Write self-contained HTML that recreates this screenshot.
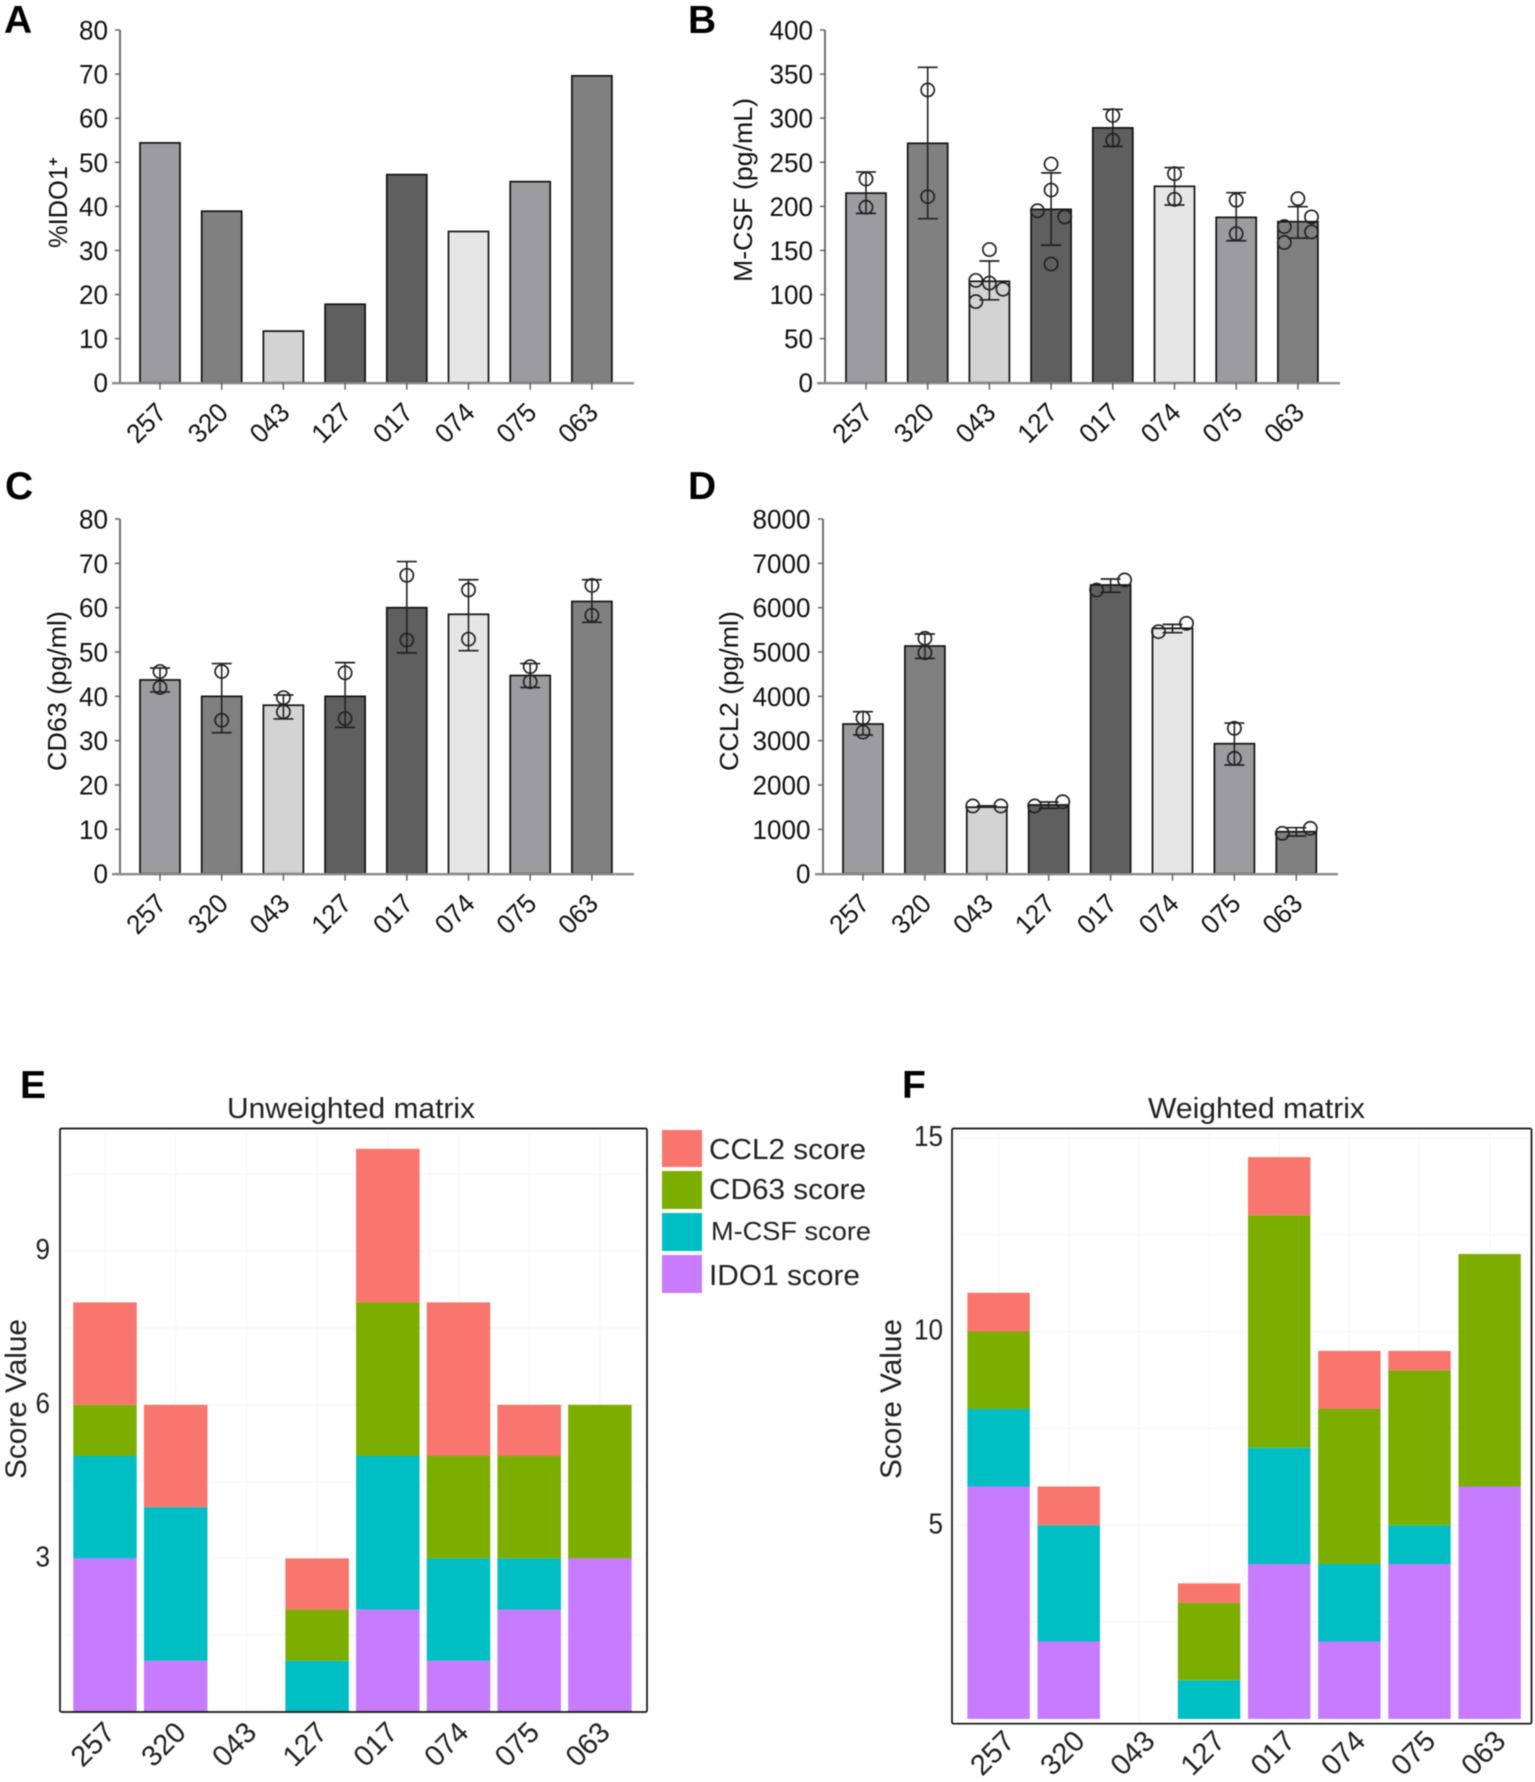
<!DOCTYPE html>
<html lang="en">
<head>
<meta charset="utf-8">
<title>IDO1, M-CSF, CD63 and CCL2 scores</title>
<style>
html,body{margin:0;padding:0;background:#fff;}
body{width:1535px;height:1782px;overflow:hidden;}
svg{display:block;filter:blur(0.45px);}
text{font-family:"Liberation Sans",sans-serif;fill:#111;}
.letter{font-size:39px;font-weight:bold;fill:#000;}
.ytitle{font-size:26px;}
.tick{font-size:27px;}
.title{font-size:29px;fill:#222;}
.legend{font-size:29px;fill:#222;}
.score{font-size:30px;fill:#222;}
</style>
</head>
<body>
<svg id="figure" width="1535" height="1782" viewBox="0 0 1535 1782" xmlns="http://www.w3.org/2000/svg">
  <rect width="1535" height="1782" fill="#fff"/>

  <g id="panel-a"></g>
  <g id="panel-b"></g>
  <g id="panel-c"></g>
  <g id="panel-d"></g>
  <g id="panel-e"></g>
  <g id="panel-f"></g>

  <text class="letter" x="4" y="33">A</text>
  <text class="letter" x="688" y="33">B</text>
  <text class="letter" x="5" y="499">C</text>
  <text class="letter" x="688" y="499">D</text>
  <text class="letter" x="20" y="1098">E</text>
  <text class="letter" x="902" y="1098">F</text>

  <text class="ytitle" transform="translate(67,248) rotate(-90)" textLength="82" lengthAdjust="spacingAndGlyphs">%IDO1</text>
  <text transform="translate(58,166) rotate(-90)" font-size="15" font-weight="bold">+</text>
  <text class="ytitle" transform="translate(752,282) rotate(-90)" textLength="184" lengthAdjust="spacingAndGlyphs">M-CSF (pg/mL)</text>
  <text class="ytitle" transform="translate(66,771) rotate(-90)" textLength="160" lengthAdjust="spacingAndGlyphs">CD63 (pg/ml)</text>
  <text class="ytitle" transform="translate(738,771) rotate(-90)" textLength="160" lengthAdjust="spacingAndGlyphs">CCL2 (pg/ml)</text>

  <text class="title" x="227" y="1118" textLength="248" lengthAdjust="spacingAndGlyphs">Unweighted matrix</text>
  <text class="title" x="1148" y="1118" textLength="217" lengthAdjust="spacingAndGlyphs">Weighted matrix</text>

  <text class="score" transform="translate(26,1479) rotate(-90)" textLength="160" lengthAdjust="spacingAndGlyphs">Score Value</text>
  <text class="score" transform="translate(901,1479) rotate(-90)" textLength="160" lengthAdjust="spacingAndGlyphs">Score Value</text>

  <g>
    <g>
      <rect x="662" y="1130" width="40" height="37" fill="#F8766D"/>
      <text class="legend" x="709" y="1159" textLength="157" lengthAdjust="spacingAndGlyphs">CCL2 score</text>
    </g>
    <g>
      <rect x="662" y="1171" width="40" height="38" fill="#7CAE00"/>
      <text class="legend" x="709" y="1199" textLength="157" lengthAdjust="spacingAndGlyphs">CD63 score</text>
    </g>
    <g>
      <rect x="662" y="1213" width="40" height="38" fill="#00BFC4"/>
      <text class="legend" x="711" y="1240" textLength="160" lengthAdjust="spacingAndGlyphs" style="font-size:26px">M-CSF score</text>
    </g>
    <g>
      <rect x="662" y="1255" width="40" height="38" fill="#C77CFF"/>
      <text class="legend" x="709" y="1285" textLength="151" lengthAdjust="spacingAndGlyphs">IDO1 score</text>
    </g>
  </g>
</svg>

<script>
const categories = ['257', '320', '043', '127', '017', '074', '075', '063'];

const ido1Ticks = [0, 10, 20, 30, 40, 50, 60, 70, 80];
const ido1Means = [54.4, 38.9, 11.7, 17.8, 47.2, 34.3, 45.6, 69.6];

const mcsfTicks = [0, 50, 100, 150, 200, 250, 300, 350, 400];
const mcsfMeans = [215, 271.5, 115, 196.6, 289, 222.7, 187.5, 182.6];
const mcsfErrLow = [192, 186, 94, 156, 268, 201.5, 161, 164];
const mcsfErrHigh = [239, 357.7, 138, 238, 310, 244, 215.5, 199.6];
const mcsfPoints = [[231, 199], [332, 211], [151, 116, 113, 106, 92], [248, 218.5, 195, 188, 134.6], [303, 275], [237, 208], [207, 169], [208.7, 188, 177, 171, 159]];
const mcsfSwarmColumns = [[0, 0], [0, 0], [0, -1, 0, 1, -1], [0, 0, -1, 1, 0], [0, 0], [0, 0], [0, 0], [0, 1, -1, 1, -1]];

const cd63Ticks = [0, 10, 20, 30, 40, 50, 60, 70, 80];
const cd63Means = [43.7, 40, 38, 40, 60, 58.5, 44.7, 61.4];
const cd63ErrLow = [41, 31.8, 34.9, 33, 49.8, 50.3, 42, 56.7];
const cd63ErrHigh = [46.4, 47.4, 40.3, 47.6, 70.4, 66.3, 47.4, 66.3];
const cd63Points = [[45.6, 42], [45.6, 34.6], [39.7, 36.5], [45.3, 35], [67.3, 52.7], [64, 52.9], [46.7, 43.3], [65, 58.3]];
const cd63SwarmColumns = [[0, 0], [0, 0], [0, 0], [0, 0], [0, 0], [0, 0], [0, 0], [0, 0]];

const ccl2Ticks = [0, 1000, 2000, 3000, 4000, 5000, 6000, 7000, 8000];
const ccl2Means = [3376, 5135, 1500, 1550, 6511, 5534, 2932, 947];
const ccl2ErrLow = [3128, 4857, 1500, 1474, 6346, 5436, 2451, 850];
const ccl2ErrHigh = [3654, 5406, 1530, 1617, 6647, 5624, 3398, 1038];
const ccl2Points = [[3511, 3195], [5308, 4985], [1527, 1527], [1527, 1624], [6398, 6624], [5459, 5647], [3278, 2601], [910, 1023]];
const ccl2SwarmColumns = [[0, 0], [0, 0], [-1, 1], [-1, 1], [-1, 1], [-1, 1], [0, 0], [-1, 1]];

const unweightedTicks = [3, 6, 9];
const unweightedMinorTicks = [1.5, 4.5, 7.5, 10.5];
const unweightedIdo1 = [3, 1, 0, 0, 2, 1, 2, 3];
const unweightedMcsf = [2, 3, 0, 1, 3, 2, 1, 0];
const unweightedCd63 = [1, 0, 0, 1, 3, 2, 2, 3];
const unweightedCcl2 = [2, 2, 0, 1, 3, 3, 1, 0];

const weightedTicks = [5, 10, 15];
const weightedMinorTicks = [2.5, 7.5, 12.5];
const weightedIdo1 = [6, 2, 0, 0, 4, 2, 4, 6];
const weightedMcsf = [2, 3, 0, 1, 3, 2, 1, 0];
const weightedCd63 = [2, 0, 0, 2, 6, 4, 4, 6];
const weightedCcl2 = [1, 1, 0, 0.5, 1.5, 1.5, 0.5, 0];

const seriesNames = ['ido1', 'mcsf', 'cd63', 'ccl2'];
const seriesColors = ['#C77CFF', '#00BFC4', '#7CAE00', '#F8766D'];
const barShades = ['#9c9ca0', '#808080', '#d3d3d3', '#5f5f5f', '#5f5f5f', '#e6e6e6', '#9c9ca0', '#808080'];

const NS = 'http://www.w3.org/2000/svg';

function mk(parent, tag, attrs, content) {
  const node = document.createElementNS(NS, tag);
  for (const key in attrs) node.setAttribute(key, attrs[key]);
  if (content !== undefined) node.textContent = content;
  parent.appendChild(node);
  return node;
}

function drawBarPanel(id, o) {
  const root = document.getElementById(id);
  const yScale = v => o.y0 - (v / o.max) * (o.y0 - o.yTop);
  const xScale = i => o.cx0 + i * o.step;
  const barW = 40;

  const yAxis = mk(root, 'line', {x1: o.axisX, x2: o.axisX, y1: o.yTop, y2: o.y0, stroke: '#707070', 'stroke-width': 2});
  
  

  o.ticks.forEach(t => {
    const tickMark = mk(root, 'line', {x1: o.axisX - 5, x2: o.axisX, y1: yScale(t), y2: yScale(t), stroke: '#666', 'stroke-width': 1.5});
    
    
    const tickLabel = mk(root, 'text', {class: 'tick', x: o.labelRight, y: yScale(t) + 9.5, 'text-anchor': 'end', textLength: String(t).length * 14.5, lengthAdjust: 'spacingAndGlyphs'}, String(t));
    
    
  });

  o.means.forEach((m, i) => {
    const cx = xScale(i);
    const bar = mk(root, 'rect', {x: cx - barW / 2, y: yScale(m), width: barW, height: o.y0 - yScale(m), fill: barShades[i], stroke: '#111', 'stroke-width': 1.7});
    
    
  });

  const xAxis = mk(root, 'line', {x1: o.xStart, x2: o.xEnd, y1: o.y0 + 0.5, y2: o.y0 + 0.5, stroke: '#8a8a8a', 'stroke-width': 2.4});
  
  

  categories.forEach((c, i) => {
    const cx = xScale(i);
    const xTick = mk(root, 'line', {x1: cx, x2: cx, y1: o.y0, y2: o.y0 + 7, stroke: '#666', 'stroke-width': 1.5});
    
    
    const xLabel = mk(root, 'text', {class: 'tick', 'text-anchor': 'middle', dy: '0.35em', textLength: 43, lengthAdjust: 'spacingAndGlyphs', transform: 'translate(' + (cx - 14) + ',' + (o.y0 + 40) + ') rotate(-45)'}, c);
    
    
  });

  if (!o.errLow) return;
  const capHalf = 10;
  o.means.forEach((m, i) => {
    const cx = xScale(i);
    const errStem = mk(root, 'line', {x1: cx, x2: cx, y1: yScale(o.errLow[i]), y2: yScale(o.errHigh[i]), stroke: '#222', 'stroke-width': 1.6});
    
    
    [o.errLow[i], o.errHigh[i]].forEach(v => {
      const cap = mk(root, 'line', {x1: cx - capHalf, x2: cx + capHalf, y1: yScale(v), y2: yScale(v), stroke: '#222', 'stroke-width': 1.7});
      
      
    });
    o.points[i].forEach((p, k) => {
      const dot = mk(root, 'circle', {cx: cx + o.columns[i][k] * o.swarmStep, cy: yScale(p), r: 6.6, fill: 'none', stroke: '#222', 'stroke-width': 1.7});
      
      
    });
  });
}

function drawStackPanel(id, o) {
  const root = document.getElementById(id);
  const yScale = v => o.y0 - v * o.unit;
  const xScale = i => o.cx0 + i * o.step;

  const plotBg = mk(root, 'rect', {x: o.left, y: o.top, width: o.right - o.left, height: o.bottom - o.top, fill: '#fff'});
  
  

  o.ticks.concat(o.minor).forEach(t => {
    const gridY = mk(root, 'line', {x1: o.left + 5, x2: o.right - 5, y1: yScale(t), y2: yScale(t), stroke: '#f8f8f8', 'stroke-width': 1.4});
    
    
  });
  categories.forEach((c, i) => {
    const gridX = mk(root, 'line', {x1: xScale(i), x2: xScale(i), y1: o.top + 5, y2: o.bottom, stroke: '#f8f8f8', 'stroke-width': 1.4});
    
    
  });

  categories.forEach((c, i) => {
    let base = 0;
    o.series.forEach((values, s) => {
      const v = values[i];
      if (v > 0) {
        const seg = mk(root, 'rect', {x: xScale(i) - o.barW / 2, y: yScale(base + v), width: o.barW, height: v * o.unit, fill: seriesColors[s]});
        
        
      }
      base += v;
    });
    const xLabel = mk(root, 'text', {class: 'tick', style: 'font-size:' + o.labelSize + 'px;fill:#222', 'text-anchor': 'middle', dy: '0.35em', transform: 'translate(' + (xScale(i) + o.labelDx) + ',' + (o.bottom + o.labelDy) + ') rotate(-45)'}, c);
    
    
  });

  o.ticks.forEach(t => {
    const yLabel = mk(root, 'text', {class: 'tick', style: 'font-size:29px;fill:#222', x: o.labelRight, y: yScale(t) + 8, 'text-anchor': 'end', textLength: String(t).length * 14.5, lengthAdjust: 'spacingAndGlyphs'}, String(t));
    
    
  });

  const frame = mk(root, 'rect', {x: o.left, y: o.top, width: o.right - o.left, height: o.bottom - o.top, fill: 'none', stroke: '#111', 'stroke-width': 1.7, rx: 1.5});
  
  
}

const topRow = {yTop: 30, y0: 382.7};
const bottomRow = {yTop: 519, y0: 873.7};
const leftCol = {axisX: 120, xStart: 112, xEnd: 634, cx0: 160, step: 61.7, labelRight: 108};

drawBarPanel('panel-a', Object.assign({}, topRow, leftCol, {max: 80, ticks: ido1Ticks, means: ido1Means}));
drawBarPanel('panel-b', Object.assign({}, topRow, {axisX: 825, xStart: 817, xEnd: 1340, cx0: 866, step: 61.7, labelRight: 813, max: 400, ticks: mcsfTicks, means: mcsfMeans, errLow: mcsfErrLow, errHigh: mcsfErrHigh, points: mcsfPoints, columns: mcsfSwarmColumns, swarmStep: 13.6}));
drawBarPanel('panel-c', Object.assign({}, bottomRow, leftCol, {max: 80, ticks: cd63Ticks, means: cd63Means, errLow: cd63ErrLow, errHigh: cd63ErrHigh, points: cd63Points, columns: cd63SwarmColumns, swarmStep: 13.6}));
drawBarPanel('panel-d', Object.assign({}, bottomRow, {axisX: 823, xStart: 815, xEnd: 1338, cx0: 863, step: 61.9, labelRight: 810.5, max: 8000, ticks: ccl2Ticks, means: ccl2Means, errLow: ccl2ErrLow, errHigh: ccl2ErrHigh, points: ccl2Points, columns: ccl2SwarmColumns, swarmStep: 14}));

drawStackPanel('panel-e', {left: 60, right: 647, top: 1128.5, bottom: 1712, y0: 1712, unit: 51.2, cx0: 105, step: 70.7, barW: 63.5, ticks: unweightedTicks, minor: unweightedMinorTicks, series: [unweightedIdo1, unweightedMcsf, unweightedCd63, unweightedCcl2], labelRight: 50, labelDx: -12.5, labelDy: 32, labelSize: 29});
drawStackPanel('panel-f', {left: 952, right: 1531.5, top: 1128.5, bottom: 1723.7, y0: 1719, unit: 38.75, cx0: 998.6, step: 70.15, barW: 62.4, ticks: weightedTicks, minor: weightedMinorTicks, series: [weightedIdo1, weightedMcsf, weightedCd63, weightedCcl2], labelRight: 943, labelDx: -6.6, labelDy: 29, labelSize: 29});
</script>
</body>
</html>
